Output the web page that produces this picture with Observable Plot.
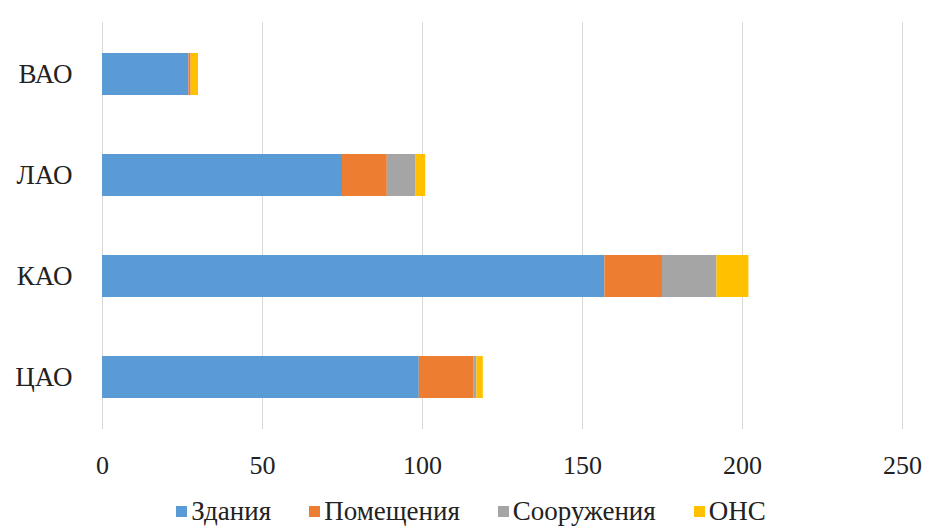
<!DOCTYPE html>
<html>
<head>
<meta charset="utf-8">
<script src="https://cdn.jsdelivr.net/npm/d3@7"></script>
<script src="https://cdn.jsdelivr.net/npm/@observablehq/plot@0.6"></script>
<style>
  html, body { margin: 0; padding: 0; background: #fff; }
  #chart { width: 930px; }
  .legend { display: flex; justify-content: center; gap: 38px; font-family: "Times New Roman", Times, "Liberation Serif", "DejaVu Serif", serif; font-size: 27px; color: #222; height: 41px; align-items: center; padding-top: 0; margin-left: 12px; }
  .legend .item { display: flex; align-items: center; gap: 4px; }
  .legend .sw { width: 11px; height: 11px; display: inline-block; }
  svg text { font-family: "Times New Roman", Times, "Liberation Serif", "DejaVu Serif", serif !important; }
</style>
</head>
<body>
<div id="chart"></div>
<script>
const districts = ["ВАО", "ЛАО", "КАО", "ЦАО"];
const seriesNames = ["Здания", "Помещения", "Сооружения", "ОНС"];
const colors = ["#5B9BD5", "#ED7D31", "#A5A5A5", "#FFC000"];
const zdaniya    = [27, 75, 157, 99];
const pomescheniya = [0.7, 14, 18, 17];
const sooruzheniya = [0, 9, 17, 1];
const ons        = [2.3, 3, 10, 2];
const xTicks = [0, 50, 100, 150, 200, 250];

const seriesValues = [zdaniya, pomescheniya, sooruzheniya, ons];
const data = [];
districts.forEach((d, i) => {
  seriesNames.forEach((s, j) => {
    data.push({district: d, series: s, value: seriesValues[j][i]});
  });
});

const chart = Plot.plot({
  width: 930,
  height: 491,
  marginTop: 22,
  marginBottom: 62,
  marginLeft: 102,
  marginRight: 28,
  style: { fontFamily: "'Times New Roman', 'Liberation Serif', serif", fontSize: "26px", color: "#222", background: "#fff" },
  x: { domain: [0, 250], ticks: xTicks, tickSize: 0, tickPadding: 26, label: null },
  y: { domain: districts, paddingInner: 0.58, paddingOuter: 0.29, tickSize: 0, tickPadding: 30, label: null },
  color: { domain: seriesNames, range: colors },
  marks: [
    Plot.gridX(xTicks, { stroke: "#d9d9d9", strokeOpacity: 1, strokeWidth: 1 }),
    Plot.barX(data, Plot.stackX({ x: "value", y: "district", fill: "series", order: seriesNames })),
    Plot.axisX({ ticks: xTicks, tickSize: 0, tickPadding: 26, fontSize: 26, label: null }),
    Plot.axisY({ tickSize: 0, tickPadding: 30, fontSize: 27, label: null })
  ]
});
document.getElementById("chart").appendChild(chart);

const legend = document.createElement("div");
legend.className = "legend";
seriesNames.forEach((s, j) => {
  const item = document.createElement("span");
  item.className = "item";
  const sw = document.createElement("span");
  sw.className = "sw";
  sw.style.background = colors[j];
  const t = document.createElement("span");
  t.textContent = s;
  item.appendChild(sw);
  item.appendChild(t);
  legend.appendChild(item);
});
document.getElementById("chart").appendChild(legend);
</script>
</body>
</html>
